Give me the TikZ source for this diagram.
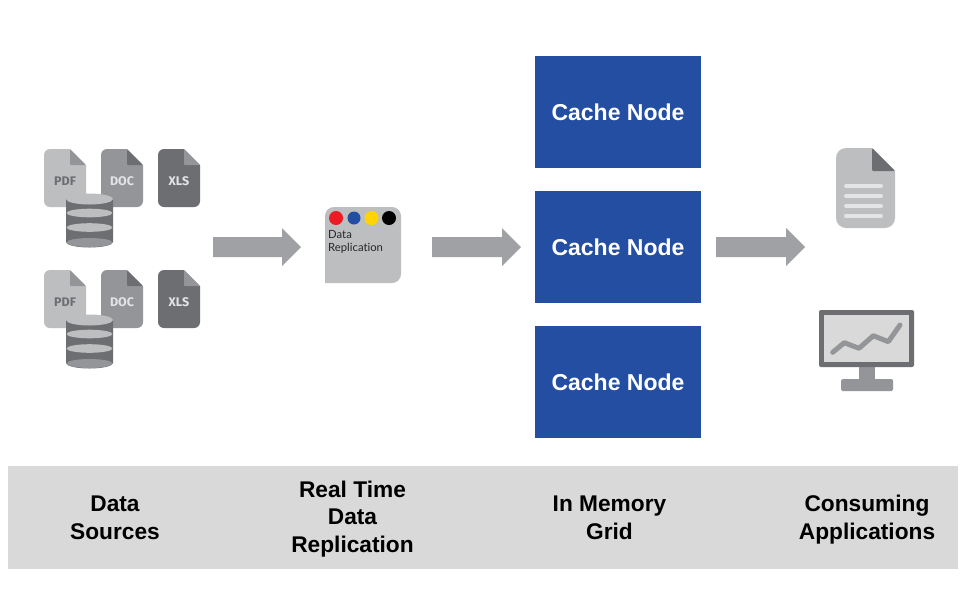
\documentclass[tikz,border=0pt]{standalone}
\usepackage{fontspec}
\setmainfont{Liberation Sans}
\newfontfamily\replfont[Ligatures=NoCommon]{Lato}
\newfontfamily\iconfont{Fira Sans}
\definecolor{blueN}{HTML}{234EA1}
\definecolor{arrowC}{HTML}{A0A1A4}
\definecolor{bandC}{HTML}{D9D9D9}
\definecolor{lightG}{HTML}{BCBEC0}
\definecolor{midG}{HTML}{939598}
\definecolor{darkG}{HTML}{6D6E71}
\definecolor{paleG}{HTML}{E3E4E5}
\definecolor{dotR}{HTML}{ED1C24}
\definecolor{dotY}{HTML}{FFD400}
\tikzset{
  cache/.style={fill=blueN,text=white,minimum width=166pt,minimum height=112pt,inner sep=0pt,font=\fontsize{23}{23}\selectfont\bfseries},
  caption/.style={align=center,font=\fontsize{22.7}{27.6}\selectfont\bfseries,inner sep=0pt,text=black},
  filelabel/.style={font=\iconfont\fontsize{12.5}{13}\selectfont\bfseries,inner sep=0pt},
  repl/.style={align=left,anchor=north west,inner sep=0pt,font=\replfont\fontsize{11.3}{13}\selectfont,text=black!85}
}
% #1 x, #2 y, #3 body, #4 fold, #5 label, #6 label colour
\newcommand{\fileicon}[6]{
  \fill[#3] (#1+26,#2) [rounded corners=6pt] -- (#1,#2) -- (#1,#2+58) -- (#1+42,#2+58) [sharp corners] -- (#1+42,#2+16) -- cycle;
  \fill[#4,rounded corners=1pt] (#1+26,#2) -- (#1+42,#2+16) -- (#1+26,#2+16) -- cycle;
  \node[filelabel,text=#6] (#5#1#2) at (#1+21,#2+32) {#5};
}
% #1 y offset
\newcommand{\cyl}[1]{
  \fill[darkG] (66,199+#1) -- (66,242+#1) arc[start angle=180,end angle=0,x radius=23.5,y radius=5.5] -- (113,199+#1) -- cycle;
  \fill[lightG] (89.5,199+#1) ellipse[x radius=23.5,y radius=5.5];
  \fill[lightG] (89.5,213+#1) ellipse[x radius=23,y radius=4.3];
  \fill[lightG] (89.5,227.5+#1) ellipse[x radius=23,y radius=4.3];
  \fill[midG] (89.5,242.5+#1) ellipse[x radius=23,y radius=4.5];
}
% #1 left x, #2 tip x
\newcommand{\blockarrow}[2]{
  \fill[arrowC] (#1,237) -- (#2-19,237) -- (#2-19,228) -- (#2,247) -- (#2-19,266) -- (#2-19,257) -- (#1,257) -- cycle;
}
\begin{document}
\begin{tikzpicture}[x=1pt,y=-1pt]
\useasboundingbox (0,0) rectangle (969,598);
\fill[white] (0,0) rectangle (969,598);
% band
\fill[bandC] (8,466) rectangle (958,569);
\node[caption] (capA) at (115,518) {Data\\Sources};
\node[caption] (capB) at (352.5,519) {Real Time\\Data\\Replication};
\node[caption] (capC) at (609.5,518) {In Memory\\Grid};
\node[caption] (capD) at (867,519.5) {Consuming\\Applications};
% sources
\fileicon{44}{149}{lightG}{midG}{PDF}{darkG}
\fileicon{101}{149}{midG}{darkG}{DOC}{paleG}
\fileicon{158}{149}{darkG}{midG}{XLS}{paleG}
\cyl{0}
\fileicon{44}{270}{lightG}{midG}{PDF}{darkG}
\fileicon{101}{270}{midG}{darkG}{DOC}{paleG}
\fileicon{158}{270}{darkG}{midG}{XLS}{paleG}
\cyl{121}
% arrows
\blockarrow{213}{301}
\blockarrow{432}{521}
\blockarrow{716}{805}
% replication box
\fill[lightG] (325,283) [rounded corners=9pt] -- (325,207) -- (401,207) -- (401,283) [sharp corners] -- cycle;
\fill[dotR] (336,218) circle[radius=7];
\fill[blueN] (354,218) circle[radius=6.5];
\fill[dotY] (371.5,218) circle[radius=7];
\fill[black] (389,218) circle[radius=7];
\node[repl] (repl) at (328,230.5) {Data\\Replication};
% cache
\node[cache] (c1) at (618,112) {Cache Node};
\node[cache] (c2) at (618,247) {Cache Node};
\node[cache] (c3) at (618,382) {Cache Node};
% right doc
\fill[lightG] (872,148) [rounded corners=10pt] -- (836,148) -- (836,228) -- (895,228) [sharp corners] -- (895,171) -- cycle;
\fill[darkG,rounded corners=1pt] (872,148) -- (895,171) -- (872,171) -- cycle;
\foreach \yy in {186,196,206,216}
  \draw[paleG,line width=4pt,line cap=round] (846,\yy) -- (881,\yy);
% monitor
\fill[midG] (859,365) rectangle (875,380);
\fill[midG,rounded corners=1.5pt] (841,379) rectangle (893,391);
\fill[darkG,rounded corners=2pt] (819,310) rectangle (914,367);
\fill[bandC] (824,315) rectangle (909,362);
\draw[midG,line width=5pt,line cap=round,line join=round] (832.7,352.3) -- (844.3,342.7) -- (859,348.3) -- (873.3,335.7) -- (888.3,341.7) -- (900,325);
\end{tikzpicture}
\end{document}
